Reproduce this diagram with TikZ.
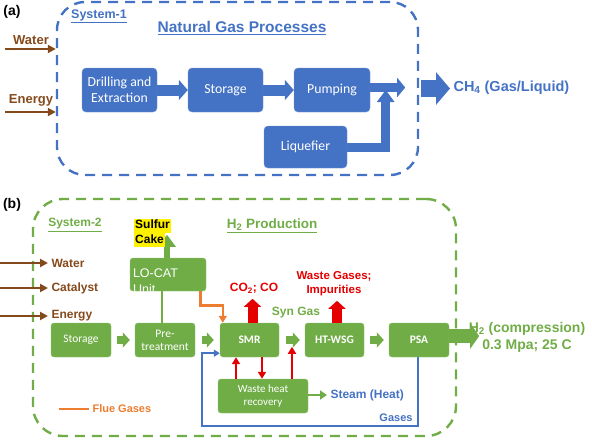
\documentclass[tikz,border=0pt]{standalone}
\usepackage{fontspec}
\setmainfont{Liberation Sans}
\newfontfamily\boxfont{Carlito}
\usetikzlibrary{positioning,arrows.meta}

\definecolor{procblue}{RGB}{68,114,196}
\definecolor{procgreen}{RGB}{112,173,71}
\definecolor{inbrown}{RGB}{133,74,28}
\definecolor{flueorange}{RGB}{237,125,49}
\definecolor{wastered}{RGB}{228,0,0}

\begin{document}
\begin{tikzpicture}[x=1pt, y=-1pt,
    every node/.style = {font=\bfseries},
    frame/.style = {draw=#1, dashed, line width=2.4pt,
      dash pattern=on 10pt off 7pt, rounded corners=28pt},
    abox/.style = {draw=procblue!75!white, fill=procblue, rounded corners=4pt,
      text=white, font=\boxfont\fontsize{13.8}{16}\selectfont,
      minimum width=75pt, minimum height=44pt, align=center},
    bbox/.style = {draw=procgreen!80!white, fill=procgreen, rounded corners=3pt,
      text=white, font=\boxfont\fontsize{11.5}{13}\selectfont,
      minimum width=60pt, minimum height=34pt, align=center},
    plain/.style = {draw=none, fill=none, rounded corners=0pt,
      minimum width=0pt, minimum height=0pt},
    input/.style = {draw=inbrown, line width=2.6pt,
      -{Triangle[length=8pt, width=8pt]}},
    fatblue/.style = {draw=procblue, line width=#1, line join=miter},
    fatgreen/.style = {draw=procgreen, line width=8pt,
      -{Triangle[length=7pt, width=15pt]}},
    fatred/.style = {draw=wastered, line width=10pt,
      -{Triangle[length=8pt, width=17pt]}},
    heat/.style = {draw=wastered, line width=2.4pt,
      -{Triangle[length=7pt, width=8pt]}},
    flue/.style = {draw=flueorange, line width=2.6pt},
    gasline/.style = {draw=procblue, line width=2.2pt},
    hilite/.style = {fill=yellow, inner sep=1pt, text height=9pt, text depth=3pt,
      anchor=west, font=\bfseries\fontsize{12}{14}\selectfont},
    bluetext/.style = {text=procblue},
    greentext/.style = {text=procgreen},
    browntext/.style = {text=inbrown, font=\bfseries\fontsize{12}{14}\selectfont},
    redtext/.style = {text=wastered, font=\bfseries\fontsize{12}{14}\selectfont}]
  \useasboundingbox (0,0) rectangle (592,440);

  % (a) natural gas
  \node (lbla) [font=\bfseries\fontsize{14}{16}\selectfont] at (12,12) {(a)};
  \node (sys1) [frame=procblue, minimum width=361pt, minimum height=173pt]
    at (237.5,88.5) {};
  \node (sys1t) [bluetext, font=\bfseries\fontsize{12.5}{14}\selectfont]
    at (99,16) {\underline{System-1}};
  \node (ngtitle) [bluetext, font=\bfseries\fontsize{15.5}{18}\selectfont]
    at (242,28) {\underline{Natural Gas Processes}};

  \node (watera)  [browntext, font=\bfseries\fontsize{13}{15}\selectfont]
    at (31,40) {Water};
  \node (energya) [browntext, font=\bfseries\fontsize{13}{15}\selectfont]
    at (31,100) {Energy};
  \coordinate (inwa) at (5,49);
  \coordinate (inea) at (5,112);
  \draw[input] (inwa) -- (inwa -| sys1.west);
  \draw[input] (inea) -- (inea -| sys1.west);

  \node (drill) [abox] at (119.5,90) {Drilling and\\Extraction};
  \node (stora) [abox] at (225.5,90) {Storage};
  \node (pump)  [abox, minimum width=76pt] at (332,90) {Pumping};
  \node (liq)   [abox, minimum width=83pt, minimum height=42pt]
    at (305.5,147) {Liquefier};

  \draw[fatblue=11pt, -{Triangle[length=9pt, width=20pt]}] (drill) -- (stora);
  \draw[fatblue=11pt, -{Triangle[length=9pt, width=20pt]}] (stora) -- (pump);
  \draw[fatblue=9pt, -{Triangle[length=8pt, width=19pt]}]
    ([yshift=2.5pt]pump.east) -- ++(35,0);
  \draw[fatblue=9pt, -{Triangle[length=12pt, width=17pt]}]
    (liq.east) -- ++(38.5,0) -- ++(0,-57);

  \node (ch4) [bluetext, anchor=west, font=\bfseries\fontsize{14.5}{17}\selectfont]
    at (450,88) {CH\textsubscript{4} (Gas/Liquid)};
  \draw[fatblue=17pt, -{Triangle[length=14pt, width=32pt]}, shorten <=2pt]
    (sys1.east) -- (sys1.east -| ch4.west);

  % (b) hydrogen
  \node (lblb) [font=\bfseries\fontsize{14}{16}\selectfont] at (12,205) {(b)};
  \node (sys2) [frame=procgreen, rounded corners=30pt,
    minimum width=423pt, minimum height=237pt] at (244.5,317.5) {};
  \node (sys2t) [greentext, font=\bfseries\fontsize{12}{14}\selectfont]
    at (75,225) {\underline{System-2}};
  \node (h2title) [greentext, font=\bfseries\fontsize{13.5}{16}\selectfont]
    at (272,226) {\underline{H\textsubscript{2} Production}};

  \node (waterb)    [browntext, anchor=west] at (48,263) {Water};
  \node (catalyst)  [browntext, anchor=west] at (48,288) {Catalyst};
  \node (energyb)   [browntext, anchor=west] at (48,316) {Energy};
  \coordinate (inwb) at (0,263);
  \coordinate (incb) at (0,288);
  \coordinate (ineb) at (0,316);
  \draw[input] (inwb) -- (waterb.west);
  \draw[input] (incb) -- (catalyst.west);
  \draw[input] (ineb) -- (energyb.west);

  \node (storb) [bbox] at (81,340) {Storage};
  \node (pre)   [bbox] at (165,340) {Pre-\\treatment};
  \node (smr)   [bbox, minimum width=59pt, font=\boxfont\bfseries\fontsize{11.5}{13}\selectfont]
    at (249.5,340) {SMR};
  \node (htwsg) [bbox, minimum width=59pt, font=\boxfont\bfseries\fontsize{11.5}{13}\selectfont]
    at (334.5,340) {HT-WSG};
  \node (psa)   [bbox, font=\boxfont\bfseries\fontsize{11.5}{13}\selectfont]
    at (419,340) {PSA};
  \node (whr)   [bbox, minimum width=90pt, font=\boxfont\fontsize{11}{13}\selectfont]
    at (263,396) {Waste heat\\recovery};
  \node (locat) [bbox, minimum width=76pt, minimum height=33pt,
    path picture={
      \node (locat1) [plain, anchor=base west, text=white, font=\normalfont\fontsize{12.5}{14}\selectfont]
        at ([xshift=-0.5pt, yshift=-19pt]path picture bounding box.north west) {LO-CAT};
      \node (locat2) [plain, anchor=base west, text=white, font=\normalfont\fontsize{12.5}{14}\selectfont]
        at ([xshift=-0.5pt, yshift=-35pt]path picture bounding box.north west) {Unit};
    }] at (168,274.5) {};

  \draw[draw=procgreen, line width=6pt, -{Triangle[length=12pt, width=17pt]}]
    ([xshift=-1pt]locat.north) -- ++(0,-23);
  \node (sulfur) [hilite] at (134,225.5) {Sulfur};
  \node (cake)   [hilite] at (134,240) {Cake};
  \draw[procgreen, line width=1.2pt] ([xshift=-3pt]pre.north) -- ([xshift=-3pt]pre.north |- locat.south);

  \draw[fatgreen, shorten <=6pt, shorten >=5pt] (storb) -- (pre);
  \draw[fatgreen, shorten <=7pt, shorten >=6pt] (pre) -- (smr);
  \draw[fatgreen, shorten <=7pt, shorten >=5pt] (smr) -- (htwsg);
  \draw[fatgreen, shorten <=6pt, shorten >=5pt] (htwsg) -- (psa);

  \draw[flue, -{Triangle[length=7pt, width=8pt]}]
    ([xshift=-6pt]locat.south east) -- ++(0,14) -| ([xshift=3pt]smr.north west);

  \node (co2) [redtext] at (254,288) {CO\textsubscript{2}; CO};
  \draw[fatred] ([xshift=3pt]smr.north) -- ++(0,-24);
  \node (waste) [redtext, align=center, font=\bfseries\fontsize{11.5}{14}\selectfont]
    at (334,284) {Waste Gases;\\Impurities};
  \draw[fatred] ([xshift=2.5pt]htwsg.north) -- ++(0,-22);
  \node (syngas) [greentext, font=\bfseries\fontsize{12}{14}\selectfont]
    at (296,313) {Syn Gas};

  \coordinate (h1) at (236,0);
  \coordinate (h2) at (262,0);
  \coordinate (h3) at (292,0);
  \draw[heat] (h1 |- whr.north) -- (h1 |- smr.south);
  \draw[heat] (h2 |- smr.south) -- (h2 |- whr.north);
  \draw[heat] (h3 |- whr.north) -- ++(0,-32);

  \node (steam) [anchor=west, bluetext, font=\bfseries\fontsize{12}{14}\selectfont]
    at (327,395) {Steam (Heat)};
  \draw[draw=procgreen, line width=2.6pt, -{Triangle[length=7pt, width=9pt]}]
    (whr.east |- steam.west) -- (steam.west);

  \node (h2out) [greentext, align=center, font=\bfseries\fontsize{14}{17}\selectfont]
    at (527,337) {H\textsubscript{2} (compression)\\0.3 Mpa; 25 C};
  \draw[fatblue=14pt, draw=procgreen, -{Triangle[length=9pt, width=25pt]}]
    ([yshift=4pt]psa.east) -- ++(30,0);

  \draw[gasline, -{Triangle[length=6pt, width=7pt]}]
    ([xshift=-1pt]psa.south) -- ++(0,69) -| ([xshift=-18pt, yshift=4pt]smr.south west)
    -- ([yshift=4pt]smr.south west);
  \node (gases) [bluetext, font=\bfseries\fontsize{11}{13}\selectfont]
    at (396,418) {Gases};

  \node (fluelbl) [anchor=west, text=flueorange, font=\bfseries\fontsize{11}{13}\selectfont]
    at (89,409) {Flue Gases};
  \draw[flue] (fluelbl.west) -- ++(-30,0);
\end{tikzpicture}
\end{document}
